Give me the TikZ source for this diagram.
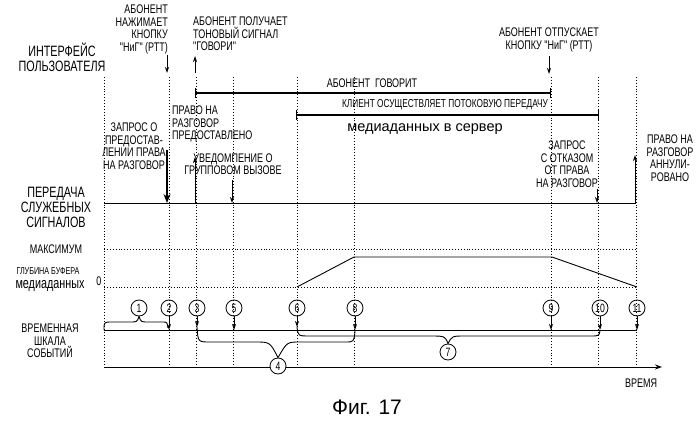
\documentclass[tikz,border=0pt]{standalone}
\usepackage{fontspec}
\setmainfont{Liberation Sans}
\newfontfamily\cond[FakeStretch=0.72]{Liberation Sans}
\usetikzlibrary{arrows.meta}
\begin{document}
\begin{tikzpicture}[x=1pt,y=-1pt,
  ln/.style={line width=0.9pt},
  dt/.style={line width=0.9pt,dotted},
  ar/.style={line width=0.9pt,-{Stealth[length=6pt,width=4pt]}},
  sm/.style={font=\cond\fontsize{12.5}{12.5}\selectfont,align=center,inner sep=0pt},
  lb/.style={font=\cond\fontsize{15}{15}\selectfont,align=center,inner sep=0pt},
  cn/.style={circle,draw,line width=0.8pt,inner sep=0pt,minimum size=16pt,font=\cond\fontsize{12}{12}\selectfont}]
\useasboundingbox (0,0) rectangle (699,425);
% vertical dotted guides
\foreach \x/\n in {104/a,169/b,196/c,233/d,297/e,354/f,551/g,598/h,636/i}{
  \coordinate (t\n) at (\x,77); \coordinate (b\n) at (\x,367);
  \draw[dt] (t\n) -- (b\n);}
% left labels
\node[lb] (ui) at (62,57) {ИНТЕРФЕЙС\\ПОЛЬЗОВАТЕЛЯ};
\node[lb] (sig) at (56,207) {ПЕРЕДАЧА\\СЛУЖЕБНЫХ\\СИГНАЛОВ};
\node[sm] (max) at (56,249) {МАКСИМУМ};
\node[sm,font=\cond\fontsize{10}{10}\selectfont] (buf) at (48,271) {ГЛУБИНА БУФЕРА};
\node[lb,font=\cond\fontsize{15}{15}\selectfont] (med) at (50,286) {медиаданных};
\node[sm] (zero) at (99,281) {0};
\node[sm] (tl) at (50,341) {ВРЕМЕННАЯ\\ШКАЛА\\СОБЫТИЙ};
\node[sm] (time) at (641,383) {ВРЕМЯ};
\node[font=\fontsize{21}{22}\selectfont,inner sep=0pt] (fig) at (367,407) {Фиг. 17};
% top labels
\node[sm,align=right,anchor=south east] (press) at (168,54) {АБОНЕНТ\\НАЖИМАЕТ\\КНОПКУ\\"НиГ" (РТТ)};
\node[sm,align=left,anchor=south west] (tone) at (193,51) {АБОНЕНТ ПОЛУЧАЕТ\\ТОНОВЫЙ СИГНАЛ\\"ГОВОРИ"};
\node[sm,anchor=south] (rel) at (549,52) {АБОНЕНТ ОТПУСКАЕТ\\КНОПКУ "НиГ" (РТТ)};
% top arrows
\coordinate (p1) at (167,55); \coordinate (p2) at (167,73);
\draw[ar] (p1) -- (p2);
\coordinate (q1) at (195,73); \coordinate (q2) at (195,56);
\draw[ar] (q1) -- (q2);
\coordinate (r1) at (549,56); \coordinate (r2) at (549,74);
\draw[ar] (r1) -- (r2);
% talk line
\coordinate (ta) at (195,93); \coordinate (tb) at (550,93);
\draw[line width=1.6pt] (ta) -- (tb);
\draw[ln] (195,88) -- (195,98); \draw[ln] (550,88) -- (550,98);
\node[sm] (talk) at (372,83) {АБОНЕНТ\ \ ГОВОРИТ};
% streaming line
\coordinate (sa) at (296,115); \coordinate (sb) at (598,115);
\draw[line width=1.6pt] (sa) -- (sb);
\draw[ln] (296,110) -- (296,120); \draw[ln] (598,110) -- (598,120);
\node[sm,font=\cond\fontsize{11.5}{12}\selectfont] (str) at (445,105) {КЛИЕНТ ОСУЩЕСТВЛЯЕТ ПОТОКОВУЮ ПЕРЕДАЧУ};
\node[inner sep=0pt,font=\fontsize{14.5}{15}\selectfont] (srv) at (425,129) {медиаданных в сервер};
% signalling
\coordinate (s0) at (104,203); \coordinate (s1) at (636,203);
\draw[ln] (s0) -- (s1);
\node[sm] (req) at (134,146) {ЗАПРОС О\\ПРЕДОСТАВ-\\ЛЕНИИ ПРАВА\\НА РАЗГОВОР};
\node[sm,align=left,anchor=north west] (gr) at (172,106) {ПРАВО НА\\РАЗГОВОР\\ПРЕДОСТАВЛЕНО};
\node[sm] (ntf) at (233,164) {УВЕДОМПЕНИЕ О\\ГРУППОВОМ ВЫЗОВЕ};
\node[sm] (rls) at (567,164) {ЗАПРОС\\С ОТКАЗОМ\\ОТ ПРАВА\\НА РАЗГОВОР};
\node[sm] (rev) at (670,158) {ПРАВО НА\\РАЗГОВОР\\АННУЛИ-\\РОВАНО};
\coordinate (a1) at (167,150); \coordinate (a2) at (167,203);
\draw[line width=1.2pt,-{Stealth[length=9pt,width=7pt]}] (a1) -- (a2);
\coordinate (b1) at (195,203); \coordinate (b2) at (195,157);
\draw[ar] (b1) -- (b2);
\coordinate (c1) at (232,180); \coordinate (c2) at (232,203);
\draw[ar] (c1) -- (c2);
\coordinate (d1) at (597,189); \coordinate (d2) at (597,203);
\draw[ar] (d1) -- (d2);
\coordinate (e1) at (635,203); \coordinate (e2) at (635,155);
\draw[ar] (e1) -- (e2);
% buffer
\coordinate (m0) at (104,249); \coordinate (m1) at (637,249);
\draw[dt] (m0) -- (m1);
\coordinate (z0) at (104,287); \coordinate (z1) at (637,287);
\draw[dt] (z0) -- (z1);
\coordinate (u0) at (297,287); \coordinate (u1) at (354,257);
\coordinate (u2) at (552,257); \coordinate (u3) at (637,287);
\draw[ln] (u0) -- (u1) -- (u2) -- (u3);
% timeline and axis
\coordinate (l0) at (104,330); \coordinate (l1) at (637,330);
\draw[ln] (l0) -- (l1);
\coordinate (x0) at (104,367); \coordinate (x1) at (662,367);
\draw[ln,-{Stealth[length=7pt,width=5pt]}] (x0) -- (x1);
% event circles
\node[cn] (e1n) at (139,308) {1};
\node[cn] (e2n) at (169,308) {2};
\node[cn] (e3n) at (197,308) {3};
\node[cn] (e5n) at (234,308) {5};
\node[cn] (e6n) at (297,308) {6};
\node[cn] (e8n) at (355,308) {8};
\node[cn] (e9n) at (551,308) {9};
\node[cn] (e10n) at (600,308) {10};
\node[cn] (e11n) at (637,308) {11};
\node[cn,fill=white] (e4n) at (278,366) {4};
\node[cn] (e7n) at (448,352) {7};
% event arrows
\foreach \n in {e2n,e5n,e8n,e9n,e10n,e11n}{
  \draw[ar] (\n.south) -- (\n.south |- l0);}
\coordinate (k3) at (197,327);
\draw[ar] (e3n.south) -- (k3);
\coordinate (k6) at (297,327);
\draw[ar] (e6n.south) -- (k6);
% braces
\draw[ln] (l0) .. controls (104,322) .. (112,322) -- (130,322) .. controls (137,322) .. (e1n.south);
\draw[ln] (e1n.south) .. controls (141,322) .. (148,322) -- (163,322) .. controls (167,322) .. (168,328);
\draw[ln] (k3) .. controls (198,342) .. (210,342) -- (255,342) .. controls (270,342) .. (e4n.north);
\draw[ln] (e4n.north) .. controls (287,342) .. (300,342) -- (345,342) .. controls (354,342) .. (355,331);
\draw[ln] (k6) .. controls (298,336) .. (310,336) -- (430,336) .. controls (445,336) .. (e7n.north);
\draw[ln] (e7n.north) .. controls (452,336) .. (465,336) -- (590,336) .. controls (599,336) .. (600,331);
\end{tikzpicture}
\end{document}
